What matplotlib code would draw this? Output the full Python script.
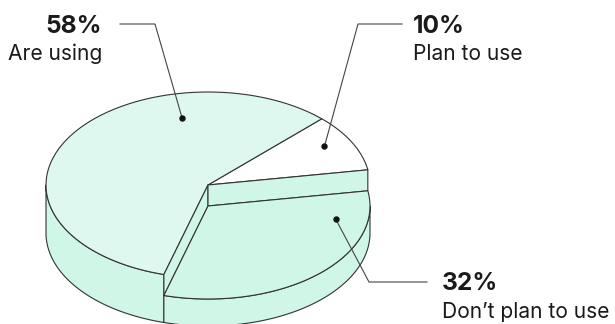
import numpy as np
import matplotlib
matplotlib.use("Agg")
import matplotlib.pyplot as plt
from matplotlib.patches import Polygon

# ---- data -------------------------------------------------------------
labels = ["Are using", "Plan to use", "Don\u2019t plan to use"]
shares = [58, 10, 32]
value_labels = ["58%", "10%", "32%"]

# ---- style / layout ---------------------------------------------------
W, H, DPI = 615, 324, 100
CX, CY, RX, RY = 208, 185, 162, 93      # top ellipse of the disc (pixels)
DEPTH = 48                              # disc thickness
START = 9.4                             # angle where the first slice begins
ORDER = [1, 0, 2]                       # slices counter-clockwise from START
DROP = {2: 21}                          # slices drawn lower than the rest
TOP_COLORS = ["#dff8ef", "#ffffff", "#cff6e7"]
SIDE_COLOR = "#cff6e7"
EDGE = "#333333"
LW = 0.8
# anchor of each leader dot in pie coordinates (angle, radius fraction)
DOTS = [(102.5, 0.74), (30.0, 0.83), (-10.0, 0.80)]
# leader elbows and text anchors (pixels)
ELBOWS = [((120, 24), (155, 24)), ((402, 24), (358, 24)), ((427, 282), (369, 282))]
TEXT_POS = [(102, "right"), (413, "left"), (442, "left")]
TEXT_Y = [(33, 59.5), (33, 60), (290, 318.5)]

PX = 72 / DPI


def pt(theta, r=1.0, z=0.0):
    t = np.radians(theta)
    return np.array([CX + RX * r * np.cos(t), CY - RY * r * np.sin(t) + z])


def arc(t0, t1, z=0.0, n=120):
    ts = np.linspace(t0, t1, n)
    return np.array([pt(t, 1.0, z) for t in ts])


fig = plt.figure(figsize=(W / DPI, H / DPI), dpi=DPI)
ax = fig.add_axes([0, 0, 1, 1])
ax.set_xlim(0, W)
ax.set_ylim(H, 0)
ax.axis("off")

# angular bounds of each slice
bounds = {}
a = START
for i in ORDER:
    span = shares[i] / sum(shares) * 360
    bounds[i] = (a, a + span)
    a += span


def patch(pts, fc, z):
    ax.add_patch(Polygon(pts, closed=True, facecolor=fc, edgecolor=EDGE,
                         linewidth=LW, joinstyle="round", zorder=z))


# outer walls (only the front half of the disc is visible)
for i in ORDER:
    t0, t1 = bounds[i]
    drop = DROP.get(i, 0)
    for lo, hi in [(180, 360), (540, 720)]:
        s0, s1 = max(t0, lo), min(t1, hi)
        if s1 > s0:
            top = arc(s0, s1, drop)
            bot = arc(s1, s0, DEPTH)
            patch(np.vstack([top, bot]), SIDE_COLOR, 1 + (2 if drop else 0))

# top faces of the full-height slices
for i in ORDER:
    if i in DROP:
        continue
    t0, t1 = bounds[i]
    patch(np.vstack([pt(0, 0), arc(t0, t1)]), TOP_COLORS[i], 2)

# exposed cut faces of the neighbours beside a lowered slice, then its top
for i, drop in DROP.items():
    t0, t1 = bounds[i]
    for t in (t0, t1):
        face = np.array([pt(t, 0), pt(t, 1), pt(t, 1, drop), pt(t, 0, drop)])
        patch(face, SIDE_COLOR, 2.5)
    patch(np.vstack([pt(0, 0, drop), arc(t0, t1, drop)]), TOP_COLORS[i], 4)

# leader lines, dots and labels
for i in range(len(shares)):
    ang, r = DOTS[i]
    dot = pt(ang, r, DROP.get(i, 0))
    (x0, y0), (x1, y1) = ELBOWS[i]
    ax.plot([x0, x1, dot[0]], [y0, y1, dot[1]], color="#444444",
            lw=0.8, solid_joinstyle="miter", zorder=6)
    ax.plot(dot[0], dot[1], "o", color="#111111", ms=5 * PX, zorder=7)
    tx, ha = TEXT_POS[i]
    yb, yl = TEXT_Y[i]
    ax.text(tx, yb, value_labels[i], ha=ha, va="baseline",
            fontsize=24.5 * PX, fontweight="bold", family="Inter",
            color="#1a1a1a", zorder=8)
    ax.text(tx, yl, labels[i], ha=ha, va="baseline",
            fontsize=21 * PX, family="Inter", color="#1a1a1a", zorder=8)

fig.savefig("out.png", dpi=DPI)
